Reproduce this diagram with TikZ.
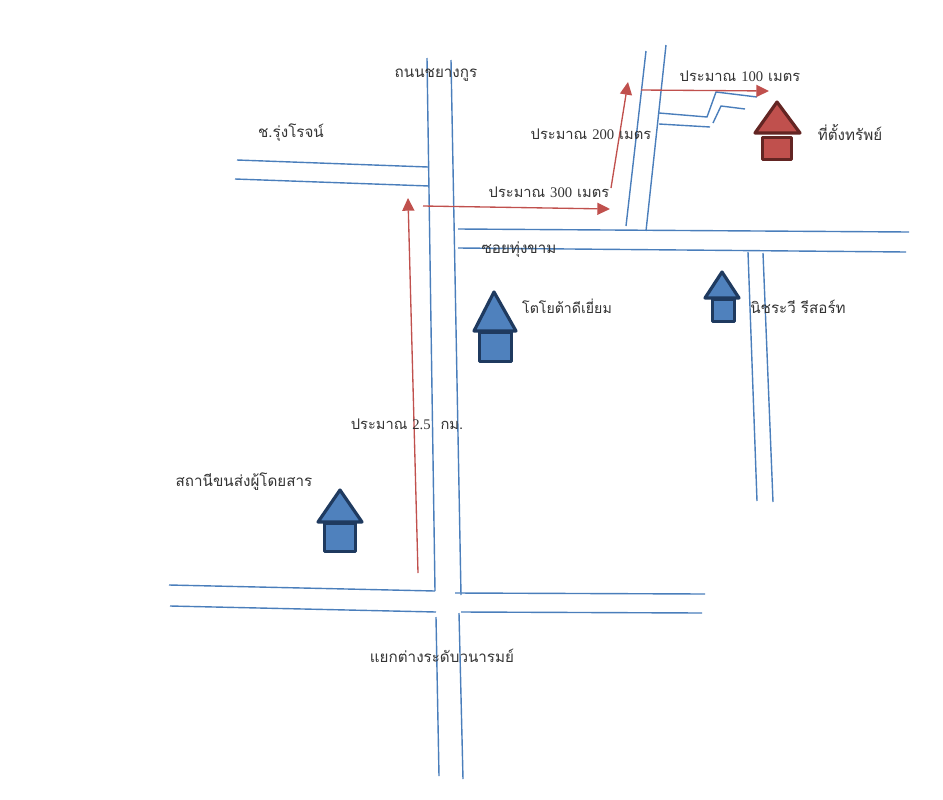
\documentclass[tikz,border=0pt]{standalone}
\usepackage{fontspec}
\newfontfamily\thaifont[Script=Thai]{Loma}
\newfontfamily\digitfont{Liberation Serif}
\usetikzlibrary{arrows.meta}
\definecolor{roadblue}{HTML}{4A7EBB}
\definecolor{routered}{HTML}{C0504D}
\definecolor{hutfillblue}{HTML}{4F81BD}
\definecolor{hutlineblue}{HTML}{1F3A5F}
\definecolor{hutlinered}{HTML}{632523}
\definecolor{labelink}{HTML}{333333}
\tikzset{
  x=0.75pt,y=-0.75pt,
  road/.style={draw=roadblue,line width=1.05pt,line join=round},
  route/.style={draw=routered,line width=1pt,-{Triangle[length=9.5pt,width=9pt]}},
  hutblue/.style={draw=hutlineblue,fill=hutfillblue,line width=2.4pt,line join=round},
  hutred/.style={draw=hutlinered,fill=routered,line width=2.4pt,line join=round},
  maplabel/.style={font=\thaifont\fontsize{11.4pt}{13pt}\selectfont,text=labelink,inner sep=0pt,anchor=center},
  distlabel/.style={maplabel,font=\thaifont\fontsize{11pt}{13pt}\selectfont},
  shoplabel/.style={maplabel,font=\thaifont\fontsize{10.6pt}{13pt}\selectfont}
}
\begin{document}
\begin{tikzpicture}
\useasboundingbox (0,0) rectangle (943,800);
% main road
\draw[road] (427,58) -- (435,591);
\draw[road] (451,60) -- (461,595);
\draw[road] (436,617) -- (439,776);
\draw[road] (459,613) -- (463,779);
% lower cross road
\draw[road] (169,585) -- (435,591);
\draw[road] (170,606) -- (436,612);
\draw[road] (455,593) -- (705,594);
\draw[road] (461,612) -- (702,613);
% side road left
\draw[road] (237,160) -- (428,167);
\draw[road] (235,179) -- (429,186);
% soi
\draw[road] (458,229) -- (909,232);
\draw[road] (458,248) -- (906,252);
% upper road
\draw[road] (646,51) -- (626,226);
\draw[road] (666,45) -- (646,231);
% branch to property
\draw[road] (659,113) -- (707,117) -- (716,92) -- (757,97);
\draw[road] (659,124) -- (710,127);
\draw[road] (713,123) -- (721,106) -- (745,109);
% road on the right
\draw[road] (748,252) -- (757,501);
\draw[road] (763,253) -- (773,502);
% routes
\coordinate (r1a) at (418,573); \coordinate (r1b) at (408,198);
\coordinate (r2a) at (423,206); \coordinate (r2b) at (610,209);
\coordinate (r3a) at (611,188); \coordinate (r3b) at (628,82);
\coordinate (r4a) at (641,90);  \coordinate (r4b) at (769,91);
\draw[route] (r1a) -- (r1b);
\draw[route] (r2a) -- (r2b);
\draw[route] (r3a) -- (r3b);
\draw[route] (r4a) -- (r4b);
% huts
\draw[hutred] (777,102) -- (800,133) -- (755,133) -- cycle;
\draw[hutred] (762.5,137.5) rectangle (791.5,159.5);
\draw[hutblue] (340,490) -- (362,522) -- (318,522) -- cycle;
\draw[hutblue] (324.5,523) rectangle (355.5,551.5);
\draw[hutblue] (494,292) -- (516,331) -- (474,331) -- cycle;
\draw[hutblue] (479.5,332) rectangle (511.5,361.5);
\draw[hutblue] (722,272) -- (739,298) -- (705,298) -- cycle;
\draw[hutblue] (712.5,299) rectangle (734.5,321.5);
% labels
\node[maplabel] (lchayang) at (436,75) {ถนนชยางกูร};
\node[maplabel] (lrung) at (291,133) {ช.รุ่งโรจน์};
\node[distlabel] (l300) at (549,192) {ประมาณ {\digitfont 300} เมตร};
\node[distlabel] (l200) at (591,134) {ประมาณ {\digitfont 200} เมตร};
\node[distlabel] (l100) at (740,76) {ประมาณ {\digitfont 100} เมตร};
\node[maplabel] (lsite) at (850,132) {ที่ตั้งทรัพย์};
\node[maplabel] (lsoi) at (519,250) {ซอยทุ่งขาม};
\node[shoplabel] (ltoyota) at (567,306) {โตโยต้าดีเยี่ยม};
\node[maplabel] (lresort) at (798,307) {นิชระวี รีสอร์ท};
\node[distlabel] (l25) at (407,424) {ประมาณ {\digitfont 2.5}\ \ กม.};
\node[maplabel] (lbus) at (244,482) {สถานีขนส่งผู้โดยสาร};
\node[maplabel] (ljunction) at (442,656) {แยกต่างระดับวนารมย์};
\end{tikzpicture}
\end{document}
